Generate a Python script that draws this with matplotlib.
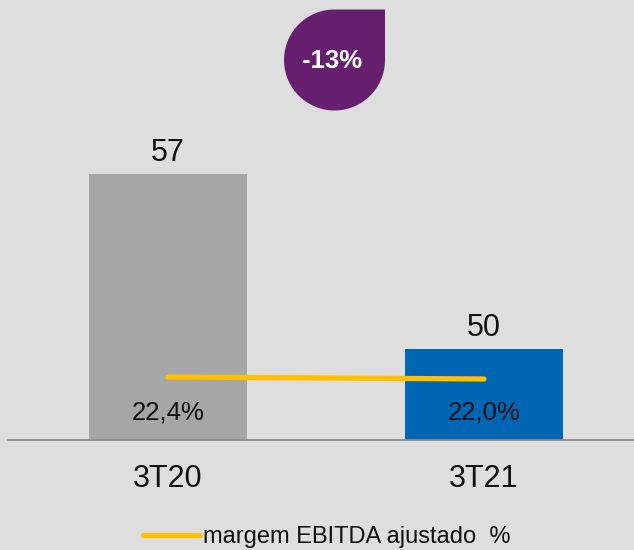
import matplotlib
matplotlib.use("Agg")
import numpy as np
import matplotlib.pyplot as plt
from matplotlib.patches import PathPatch
from matplotlib.path import Path
from matplotlib.lines import Line2D

plt.rcParams['font.family'] = ['Liberation Sans', 'DejaVu Sans']

categories = ["3T20", "3T21"]
ebitda = [57, 50]
margins = [22.4, 22.0]
margin_labels = ["22,4%", "22,0%"]
bar_colors = ["#a6a6a6", "#0066b3"]
change_label = "-13%"
legend_label = "margem EBITDA ajustado  %"

BG = "#dedede"
W, H = 634, 550
fig = plt.figure(figsize=(W / 100, H / 100), dpi=100, facecolor=BG)

ax = fig.add_axes([8 / W, 110 / H, 626 / W, 440 / H])
ax.set_facecolor(BG)
x = list(range(len(categories)))
ax.bar(x, ebitda, width=0.5, color=bar_colors, zorder=2)
ax.set_xlim(-0.506, 1.475)
ax.set_ylim(46.36, 63.96)
for s in ["top", "left", "right"]:
    ax.spines[s].set_visible(False)
ax.spines["bottom"].set_color("#8c8c8c")
ax.spines["bottom"].set_linewidth(1.3)
ax.set_yticks([])
ax.set_xticks(x)
ax.set_xticklabels(categories, fontsize=22, color="#111111")
ax.tick_params(axis="x", length=0, pad=17)

for xi, v in zip(x, ebitda):
    ax.annotate(str(v), (xi, v), xytext=(0, 9.5), textcoords="offset points",
                ha="center", va="baseline", fontsize=22, color="#111111")

for xi, lab in zip(x, margin_labels):
    ax.text(xi, 0.062, lab, transform=ax.get_xaxis_transform(), ha="center",
            va="center", fontsize=18.5, color="#111111", zorder=4)

ax2 = ax.twinx()
ax2.plot(x, margins, color="#ffc000", lw=3.8, solid_capstyle="round", zorder=3)
ax2.set_ylim(9.8, 97.8)
ax2.set_yticks([])
for s in ax2.spines.values():
    s.set_visible(False)

# badge overlay (teardrop: round except square top-right corner)
ov = fig.add_axes([0, 0, 1, 1])
ov.set_xlim(0, W)
ov.set_ylim(0, H)
ov.axis("off")
cx, cy, r = 334.5, H - 60, 50.5
purple = "#661f6e"
t = np.linspace(np.pi / 2, 2 * np.pi, 120)
verts = [(cx + r, cy + r)] + list(zip(cx + r * np.cos(t), cy + r * np.sin(t))) + [(cx + r, cy + r)]
codes = [Path.MOVETO] + [Path.LINETO] * (len(verts) - 2) + [Path.CLOSEPOLY]
ov.add_patch(PathPatch(Path(verts, codes), facecolor=purple, edgecolor="none"))
ov.text(cx - 2, cy - 1, change_label, ha="center", va="center", fontsize=18.5,
        fontweight="bold", color="white")

handle = Line2D([], [], color="#ffc000", lw=3.8, solid_capstyle="round")
fig.legend([handle], [legend_label], loc="center", bbox_to_anchor=(327 / W, 13 / H),
           frameon=False, handlelength=2.4, handletextpad=0.15, fontsize=17,
           labelcolor="#111111")

fig.savefig("out.png", dpi=100, facecolor=BG)
